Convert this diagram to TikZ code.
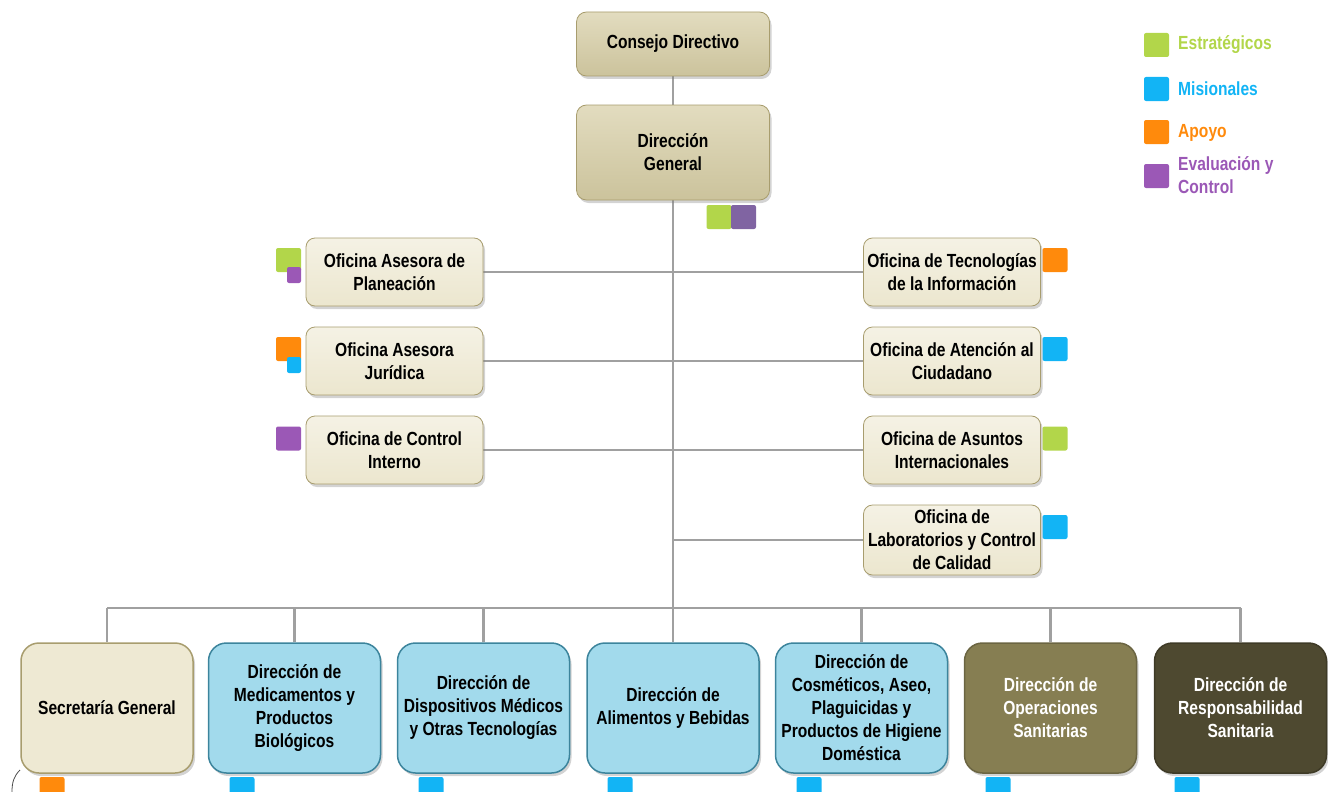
\documentclass[tikz,border=0pt]{standalone}
\usepackage{fontspec}
\setmainfont{Liberation Sans}[FakeStretch=0.82]
\usepackage{xcolor}
\usepackage{tikz}
\usetikzlibrary{positioning, shadows, backgrounds}

\definecolor{estrat}{RGB}{178,214,74}
\definecolor{mision}{RGB}{18,180,245}
\definecolor{apoyo}{RGB}{255,138,12}
\definecolor{evalua}{RGB}{155,88,182}
\definecolor{evaluados}{RGB}{128,100,162}
\definecolor{linea}{RGB}{160,160,160}
\definecolor{arenaosc}{RGB}{214,205,164}
\definecolor{arenaclara}{RGB}{238,233,211}
\definecolor{bordearena}{RGB}{168,157,110}
\definecolor{celeste}{RGB}{162,218,236}
\definecolor{bordeceleste}{RGB}{60,132,156}
\definecolor{oliva}{RGB}{134,126,82}
\definecolor{olivaosc}{RGB}{78,73,48}

\tikzset{
  conector/.style={draw=linea, line width=2.5pt},
  caja/.style={align=center, inner sep=0pt,
    font=\fontsize{19}{23}\selectfont\bfseries,
    drop shadow={shadow xshift=2pt, shadow yshift=-3pt, opacity=0.35}},
  cajasup/.style={caja, rounded corners=10pt, draw=bordearena, line width=0.8pt,
    top color=arenaosc!70!white, bottom color=arenaosc!95!black,
    minimum width=193pt},
  oficina/.style={caja, rounded corners=9pt, draw=bordearena, line width=0.8pt,
    top color=arenaclara!60!white, bottom color=arenaclara!90!arenaosc,
    minimum width=177pt, minimum height=68pt},
  direc/.style={caja, rounded corners=18pt, line width=1.5pt,
    minimum width=172pt, minimum height=130pt},
  marca/.style={rounded corners=2pt, inner sep=0pt, minimum width=25pt, minimum height=24pt},
  marquita/.style={rounded corners=2pt, inner sep=0pt, minimum width=14pt, minimum height=16pt},
  leyenda/.style={anchor=west, align=left, inner sep=0pt,
    font=\fontsize{19}{23}\selectfont\bfseries}
}

\begin{document}
\begin{tikzpicture}[x=1pt,y=1pt,yscale=-1,xscale=1]
\useasboundingbox (0,0) rectangle (1328,792);

% Cajas superiores
\node[cajasup, minimum height=64pt] (consejo) at (673,44) {Consejo Directivo};
\node[cajasup, minimum height=95pt] (direccion) at (673,152.5) {Dirección\\General};

% Oficinas izquierda
\node[oficina] (ofplan) at (394.5,272) {Oficina Asesora de\\Planeación};
\node[oficina] (ofjur) at (394.5,361) {Oficina Asesora\\Jurídica};
\node[oficina] (ofcint) at (394.5,450) {Oficina de Control\\Interno};

% Oficinas derecha
\node[oficina] (oftic) at (952,272) {Oficina de Tecnologías\\de la Información};
\node[oficina] (ofaten) at (952,361) {Oficina de Atención al\\Ciudadano};
\node[oficina] (ofasint) at (952,450) {Oficina de Asuntos\\Internacionales};
\node[oficina, minimum height=70pt] (oflab) at (952,540) {Oficina de\\Laboratorios y Control\\de Calidad};

% Direcciones
\node[direc, draw=bordearena, fill=arenaclara] (secgen) at (107,708) {Secretaría General};
\node[direc, draw=bordeceleste, fill=celeste] (dirmed) at (294.5,708) {Dirección de\\Medicamentos y\\Productos\\Biológicos};
\node[direc, draw=bordeceleste, fill=celeste] (dirdisp) at (483.5,708) {Dirección de\\Dispositivos Médicos\\y Otras Tecnologías};
\node[direc, draw=bordeceleste, fill=celeste] (diralim) at (673,708) {Dirección de\\Alimentos y Bebidas};
\node[direc, draw=bordeceleste, fill=celeste] (dircosm) at (861.5,708) {Dirección de\\Cosméticos, Aseo,\\Plaguicidas y\\Productos de Higiene\\Doméstica};
\node[direc, draw=oliva!80!black, fill=oliva, text=white] (dirops) at (1050.5,708) {Dirección de\\Operaciones\\Sanitarias};
\node[direc, draw=olivaosc!80!black, fill=olivaosc, text=white] (dirresp) at (1240.5,708) {Dirección de\\Responsabilidad\\Sanitaria};

% Conectores
\coordinate (bus) at (673,608);
\begin{pgfonlayer}{background}
\draw[conector] (consejo) -- (direccion);
\draw[conector] (direccion.south) -- (diralim.north);
\draw[conector] (ofplan.east) -- (ofplan -| direccion);
\draw[conector] (ofjur.east) -- (ofjur -| direccion);
\draw[conector] (ofcint.east) -- (ofcint -| direccion);
\draw[conector] (oftic.west) -- (oftic -| direccion);
\draw[conector] (ofaten.west) -- (ofaten -| direccion);
\draw[conector] (ofasint.west) -- (ofasint -| direccion);
\draw[conector] (oflab.west) -- (oflab -| direccion);
\draw[conector] (secgen.north |- bus) -- (dirresp.north |- bus);
\foreach \d in {secgen, dirmed, dirdisp, dircosm, dirops, dirresp}
  \draw[conector] (\d.north) -- (\d.north |- bus);
\end{pgfonlayer}

% Marcas de tipo de proceso
\node[marca, fill=estrat] (mdga) at (719,217) {};
\node[marca, fill=evaluados] (mdgb) at (743.5,217) {};
\node[marca, fill=estrat] (mplan) at (288.5,260) {};
\node[marquita, fill=evalua] (mplanb) at (294,275) {};
\node[marca, fill=apoyo] (mjur) at (288.5,349) {};
\node[marquita, fill=mision] (mjurb) at (294,365) {};
\node[marca, fill=evalua] (mcint) at (288.5,438.5) {};
\node[marca, fill=apoyo] (mtic) at (1055,260) {};
\node[marca, fill=mision] (maten) at (1055,349) {};
\node[marca, fill=estrat] (masint) at (1055,438.5) {};
\node[marca, fill=mision] (mlab) at (1055,527) {};
\node[marca, fill=apoyo] (msec) at (52,789) {};
\node[marca, fill=mision] (mmed) at (242,789) {};
\node[marca, fill=mision] (mdisp) at (431,789) {};
\node[marca, fill=mision] (malim) at (620,789) {};
\node[marca, fill=mision] (mcosm) at (809,789) {};
\node[marca, fill=mision] (mops) at (998,789) {};
\node[marca, fill=mision] (mresp) at (1187,789) {};

% Leyenda
\node[marca, fill=estrat] (lestrat) at (1156.5,45) {};
\node[marca, fill=mision] (lmision) at (1156.5,89) {};
\node[marca, fill=apoyo] (lapoyo) at (1156.5,132) {};
\node[marca, fill=evalua] (levalua) at (1156.5,176) {};
\node[leyenda, text=estrat] (testrat) at (1178,45) {Estratégicos};
\node[leyenda, text=mision] (tmision) at (1178,89) {Misionales};
\node[leyenda, text=apoyo] (tapoyo) at (1178,133) {Apoyo};
\node[leyenda, text=evalua] (tevalua) at (1178,175.5) {Evaluación y\\Control};

% borde suelto
\draw[black!70, line width=0.8pt] (12,792) .. controls (12,782) and (14,776) .. (20,770);

\end{tikzpicture}
\end{document}
